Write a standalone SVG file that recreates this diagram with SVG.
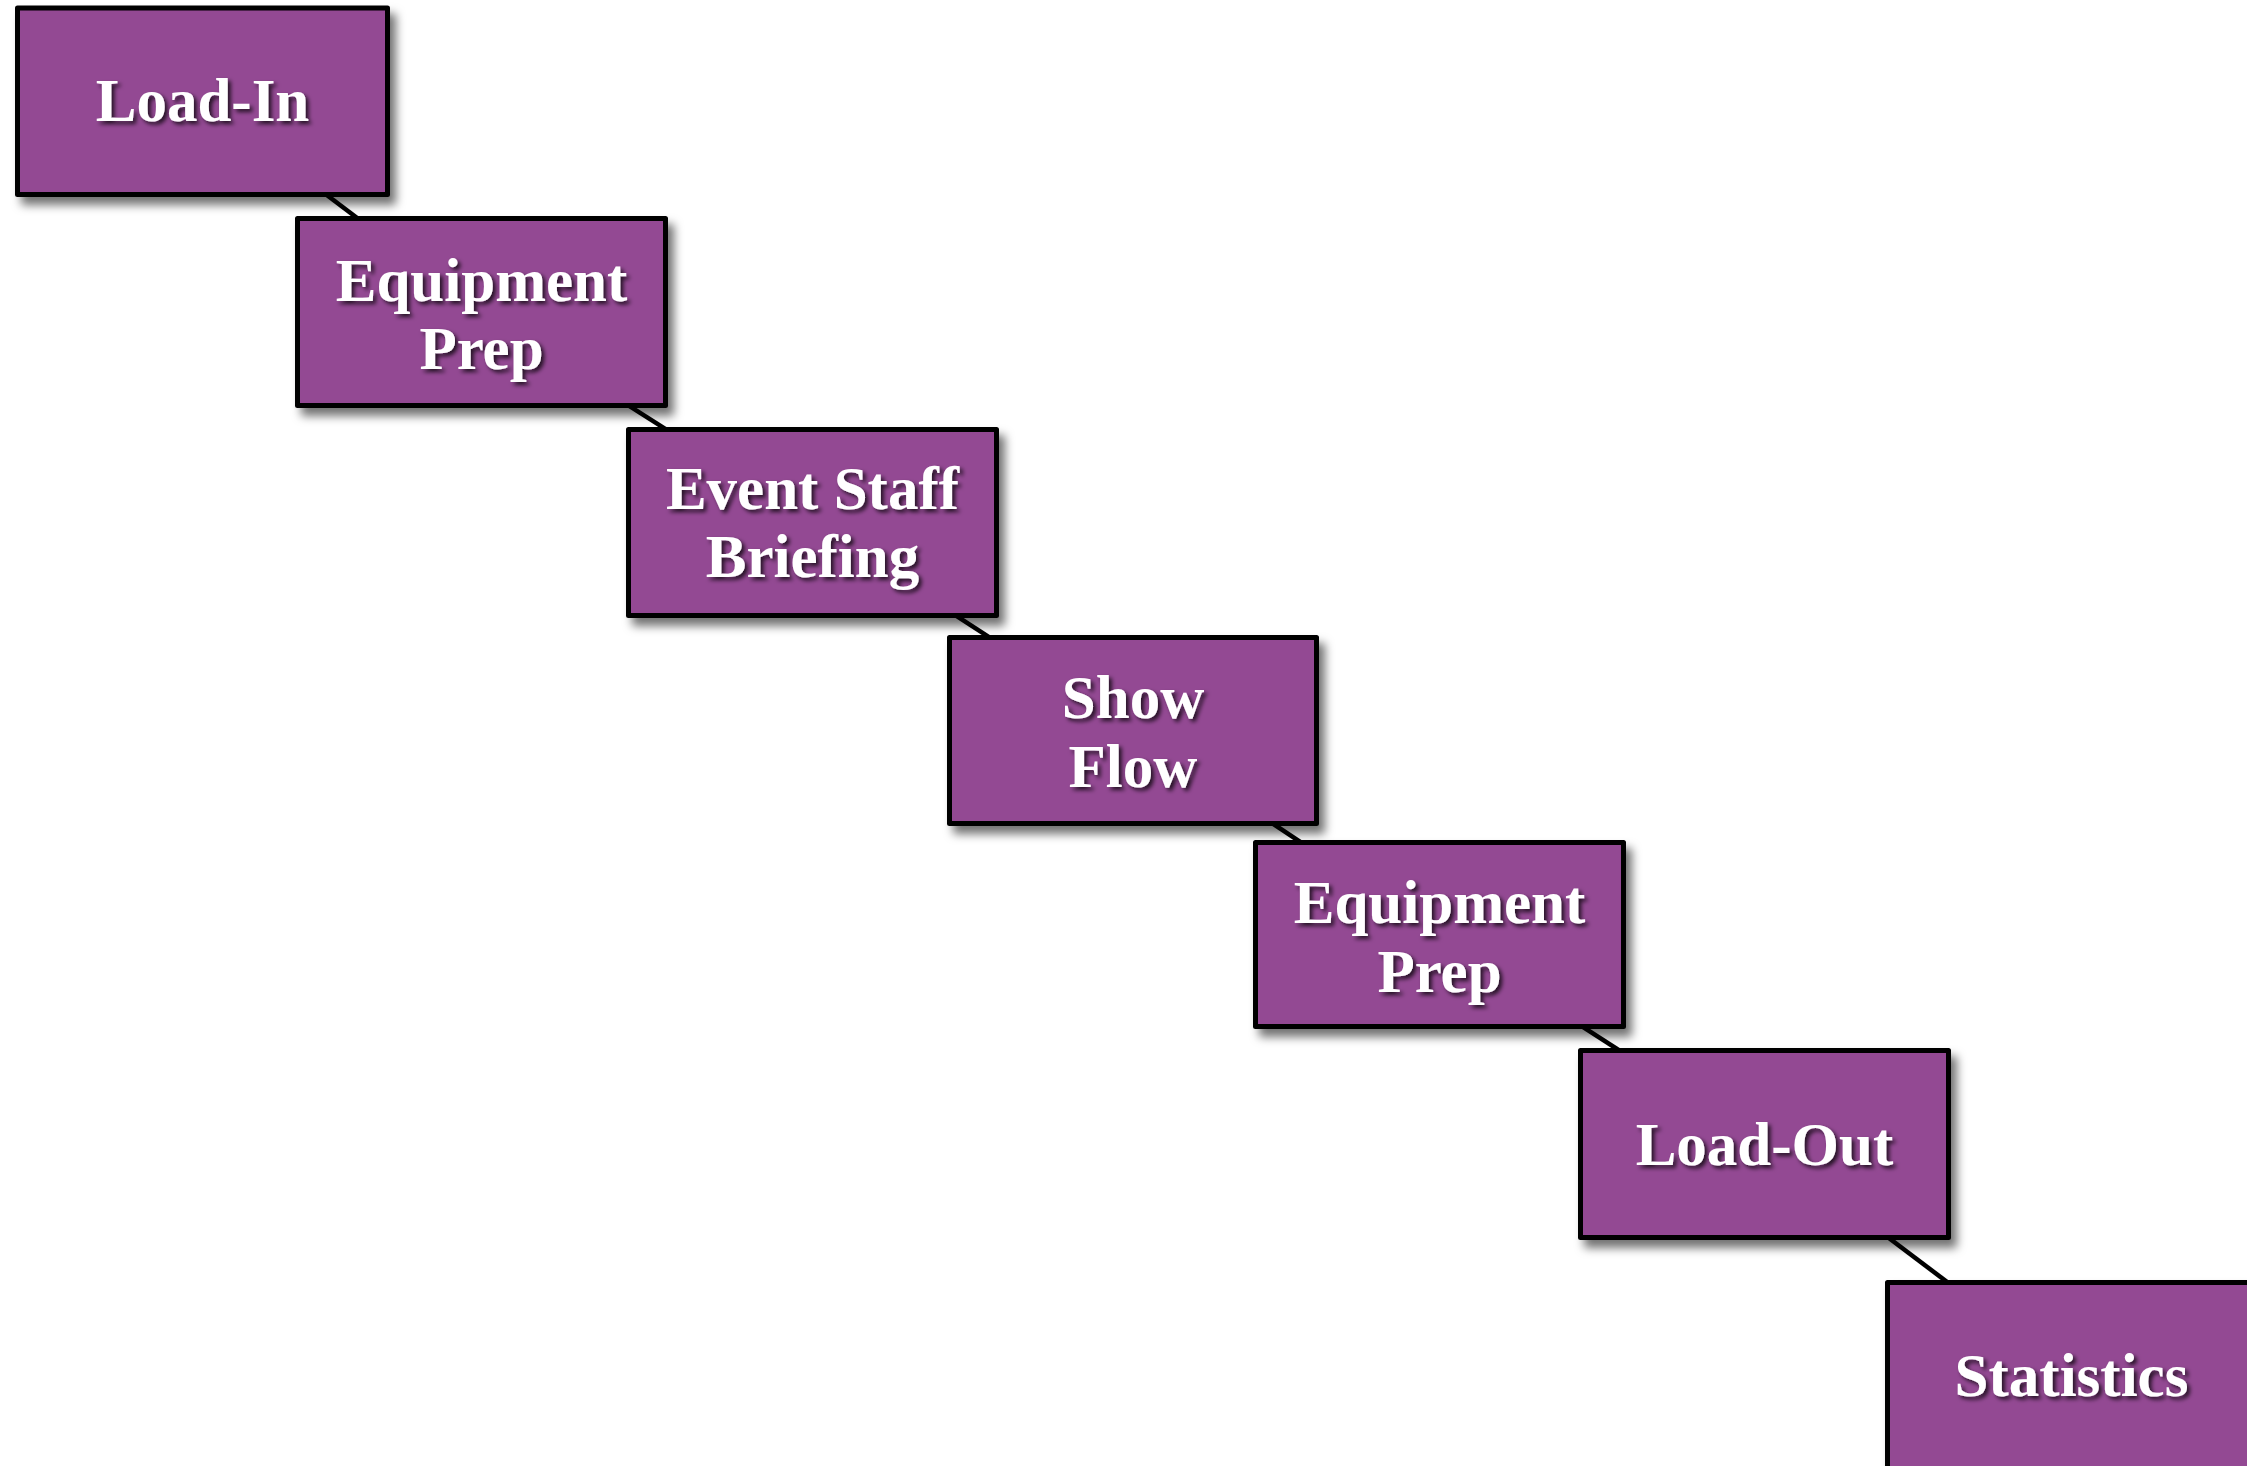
<svg xmlns="http://www.w3.org/2000/svg" width="2247" height="1466" viewBox="0 0 2247 1466">
<defs>
<filter id="boxShadow" x="-10%" y="-10%" width="130%" height="140%">
<feDropShadow dx="6" dy="8" stdDeviation="5" flood-color="#000" flood-opacity="0.55"/>
</filter>
<filter id="textShadow" x="-10%" y="-20%" width="130%" height="150%">
<feDropShadow dx="3" dy="3" stdDeviation="2" flood-color="#000" flood-opacity="0.75"/>
</filter>
</defs>
<style>
.box{fill:#934893;stroke:#000;stroke-width:5;stroke-linejoin:round;filter:url(#boxShadow)}
.lbl{font-family:"Liberation Serif","Times New Roman",serif;font-weight:bold;font-size:61px;fill:#fff;text-anchor:middle;filter:url(#textShadow)}
.conn{stroke:#000;stroke-width:4.5;fill:none}
</style>
<rect x="0" y="0" width="2247" height="1466" fill="#fff"/>
<g id="connectors">
<line class="conn" x1="202.5" y1="101" x2="481.5" y2="312"/>
<line class="conn" x1="481.5" y1="312" x2="812.5" y2="522.5"/>
<line class="conn" x1="812.5" y1="522.5" x2="1133" y2="730.5"/>
<line class="conn" x1="1133" y1="730.5" x2="1439.5" y2="934.5"/>
<line class="conn" x1="1439.5" y1="934.5" x2="1764.5" y2="1144"/>
<line class="conn" x1="1764.5" y1="1144" x2="2071.5" y2="1376"/>
</g>
<g id="node-load-in">
<rect class="box" x="17.5" y="8" width="370" height="186.5"/>
<text class="lbl" x="202.5" y="121">Load-In</text>
</g>
<g id="node-equipment-prep-1">
<rect class="box" x="297.5" y="218.5" width="368" height="187"/>
<text class="lbl" x="481.5" y="301">Equipment</text>
<text class="lbl" x="481.5" y="369">Prep</text>
</g>
<g id="node-event-staff-briefing">
<rect class="box" x="628.5" y="429.5" width="368" height="186"/>
<text class="lbl" x="812.5" y="509">Event Staff</text>
<text class="lbl" x="812.5" y="577">Briefing</text>
</g>
<g id="node-show-flow">
<rect class="box" x="949.5" y="637.5" width="367" height="186"/>
<text class="lbl" x="1133" y="718">Show</text>
<text class="lbl" x="1133" y="787">Flow</text>
</g>
<g id="node-equipment-prep-2">
<rect class="box" x="1255.5" y="842.5" width="368" height="184"/>
<text class="lbl" x="1439.5" y="923">Equipment</text>
<text class="lbl" x="1439.5" y="992">Prep</text>
</g>
<g id="node-load-out">
<rect class="box" x="1580.5" y="1050.5" width="368" height="187"/>
<text class="lbl" x="1764.5" y="1165">Load-Out</text>
</g>
<g id="node-statistics">
<rect class="box" x="1887.5" y="1282.5" width="368" height="187"/>
<text class="lbl" x="2071.5" y="1396">Statistics</text>
</g>
</svg>
